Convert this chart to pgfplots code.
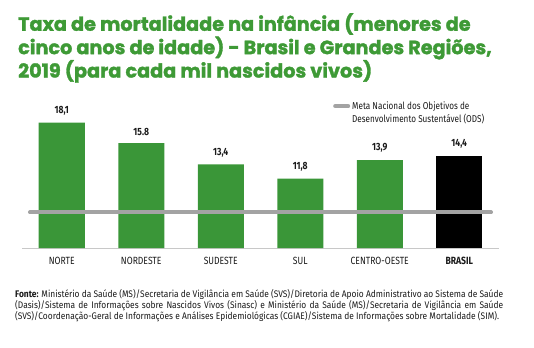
\documentclass[border=0pt]{standalone}
\usepackage{pgfplots}
\pgfplotsset{compat=1.18}
\usepackage{fontspec}
\setmainfont{Fira Sans}[FakeStretch=0.82]
\newfontfamily\srcfont{Fira Sans}[FakeStretch=0.88]
\newfontfamily\titlefont{Poppins}[FakeBold=1.6]
\definecolor{bargreen}{HTML}{3A9638}
\definecolor{titlegreen}{HTML}{3E9A36}
\definecolor{metagray}{HTML}{A3A3A3}
\definecolor{basegray}{HTML}{C8C8C8}
\definecolor{txt}{HTML}{1A1A1A}
\begin{document}
\begin{tikzpicture}
\path[use as bounding box] (0,0) rectangle (534bp,-348bp);
\node[anchor=north west, inner sep=0pt, align=left, text=titlegreen,
      font=\titlefont\bfseries\fontsize{19.3}{23.5}\selectfont] at (18bp,-13bp)
  {Taxa de mortalidade na infância (menores de\\cinco anos de idade) - Brasil e Grandes Regiões,\\2019 (para cada mil nascidos vivos)};
\begin{axis}[
  at={(22bp,-248bp)}, anchor=south west,
  scale only axis, width=477bp, height=142.2bp,
  xmin=-0.5, xmax=5.5, ymin=4, ymax=20,
  hide y axis, axis x line*=bottom,
  axis line style={draw=basegray, line width=1bp},
  xtick={0,1,2,3,4,5},
  xticklabels={NORTE,NORDESTE,SUDESTE,SUL,CENTRO-OESTE,\bfseries BRASIL},
  xtick style={draw=none},
  xticklabel style={font=\fontsize{10.5}{12}\selectfont, text=txt, yshift=-1bp},
  ybar, bar width=46bp,
  legend style={at={(axis description cs:0.652,1.045)}, anchor=north west,
    draw=none, fill=none, inner sep=0pt,
    font=\fontsize{10}{13}\selectfont, text=txt,
    cells={align=left}},
  legend image code/.code={\draw[line width=4bp, metagray, line cap=round] (1bp,6.5bp) -- (14bp,6.5bp);},
]
\addplot[ybar, bar shift=0pt, fill=bargreen, draw=none, forget plot,
  nodes near coords, point meta=explicit symbolic,
  every node near coord/.append style={font=\bfseries\fontsize{10.5}{12}\selectfont, text=txt, yshift=4bp}]
  coordinates {(0,18.1) [18,1] (1,15.8) [15.8] (2,13.4) [13,4] (3,11.8) [11,8] (4,13.9) [13,9]};
\addplot[ybar, bar shift=0pt, fill=black, draw=none, forget plot,
  nodes near coords, point meta=explicit symbolic,
  every node near coord/.append style={font=\bfseries\fontsize{10.5}{12}\selectfont, text=txt, yshift=4bp}]
  coordinates {(5,14.4) [14,4]};
\addplot[sharp plot, line width=4bp, metagray, line cap=round, mark=none]
  coordinates {(-0.4,8) (5.4,8)};
\addlegendentry{Meta Nacional dos Objetivos de\\Desenvolvimento Sustentável (ODS)}
\end{axis}
\node[anchor=north west, inner sep=0pt, text width=488bp, align=justify, text=txt,
      font=\srcfont\fontsize{9.6}{9.8}\selectfont] at (15bp,-289bp)
  {\textbf{Fonte:} Ministério da Saúde (MS)/Secretaria de Vigilância em Saúde (SVS)/Diretoria de Apoio Administrativo ao Sistema de Saúde (Dasis)/Sistema de Informações sobre Nascidos Vivos (Sinasc) e Ministério da Saúde (MS)/Secretaria de Vigilância em Saúde (SVS)/Coordenação-Geral de Informações e Análises Epidemiológicas (CGIAE)/Sistema de Informações sobre Mortalidade (SIM).};
\end{tikzpicture}
\end{document}
